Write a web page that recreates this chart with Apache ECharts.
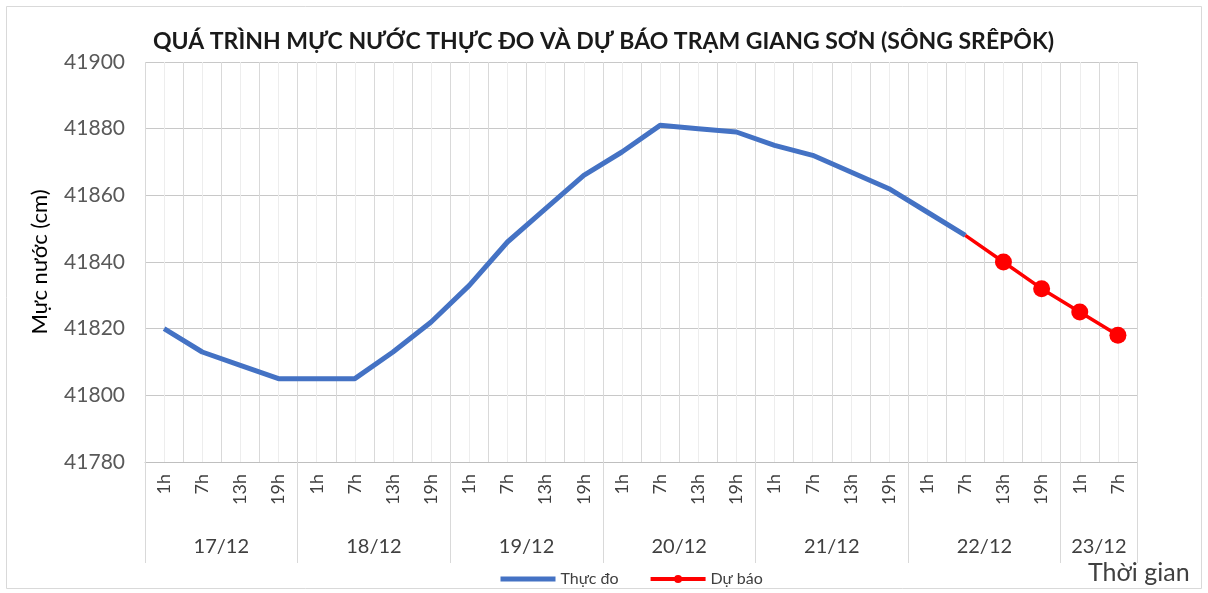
<!DOCTYPE html>
<html>
<head>
<meta charset="utf-8">
<script src="https://cdn.jsdelivr.net/npm/echarts@6/dist/echarts.min.js"></script>
<style>html,body{margin:0;padding:0;background:#fff;}#c{width:1208px;height:593px;}</style>
</head>
<body>
<div id="c"></div>
<script>
// ---- data ----
const hours = ['1h', '7h', '13h', '19h'];
const dates = ['17/12', '18/12', '19/12', '20/12', '21/12', '22/12', '23/12'];
const hoursPerDate = [4, 4, 4, 4, 4, 4, 2];
const observed = [41820, 41813, 41809, 41805, 41805, 41805, 41813, 41822,
                  41833, 41846, 41856, 41866, 41873, 41881, 41880, 41879,
                  41875, 41872, 41867, 41862, 41855, 41848];
const forecast = [41848, 41840, 41832, 41825, 41818];
const yTicks = [41780, 41800, 41820, 41840, 41860, 41880, 41900];

// ---- derived structures ----
const categories = [];
dates.forEach((d, i) => { for (let k = 0; k < hoursPerDate[i]; k++) categories.push(hours[k]); });
const nCat = categories.length;
const halfSlots = new Array(nCat * 2 + 1).fill('');
const boundaryIdx = [];
let s = 0;
dates.forEach((d, i) => {
  boundaryIdx.push(2 * s);
  halfSlots[2 * s + hoursPerDate[i]] = d;
  s += hoursPerDate[i];
});
boundaryIdx.push(2 * nCat);
const fStart = observed.length - 1;
const forecastData = categories.map((c, i) => {
  if (i < fStart || i >= fStart + forecast.length) return null;
  const v = forecast[i - fStart];
  return i === fStart ? { value: v, symbol: 'none' } : v;
});

const FONT = 'Lato, "Noto Sans", sans-serif';
const chart = echarts.init(document.getElementById('c'), null, { renderer: 'canvas' });
chart.setOption({
  animation: false,
  backgroundColor: '#fff',
  title: [{
    text: 'QUÁ TRÌNH MỰC NƯỚC THỰC ĐO VÀ DỰ BÁO TRẠM GIANG SƠN (SÔNG SRÊPÔK)',
    left: 148, top: 25,
    textStyle: { fontFamily: FONT, fontSize: 23, fontWeight: 'bold', color: '#1a1a1a' }
  }, {
    text: 'Thời gian',
    left: 1083, top: 555,
    textStyle: { fontFamily: FONT, fontSize: 25, fontWeight: 'normal', color: '#404040' }
  }],
  graphic: [{
    type: 'rect', shape: { x: 6.5, y: 6.5, width: 1195, height: 582 },
    style: { fill: 'none', stroke: '#d9d9d9', lineWidth: 1 }, silent: true
  }],
  legend: {
    left: 493, top: 566,
    itemWidth: 55, itemHeight: 10, itemGap: 30,
    textStyle: { fontFamily: FONT, fontSize: 16, color: '#404040' },
    data: [
      { name: 'Thực đo', itemStyle: { opacity: 0 }, lineStyle: { width: 5, color: '#4472C4' } },
      { name: 'Dự báo', lineStyle: { width: 4, color: '#FF0000' } }
    ]
  },
  grid: { left: 145, right: 71, top: 62, bottom: 131, containLabel: false },
  xAxis: [{
    type: 'category',
    data: categories,
    boundaryGap: true,
    axisLine: { show: true, lineStyle: { color: '#bfbfbf', width: 1 } },
    axisTick: { show: false },
    axisLabel: { interval: 0, rotate: 90, margin: 12, fontFamily: FONT, fontSize: 18, color: '#404040' },
    splitLine: { show: true, interval: 0, lineStyle: { color: '#d9d9d9', width: 1 } }
  }, {
    type: 'category',
    data: halfSlots,
    boundaryGap: false,
    position: 'bottom',
    axisLine: { show: false },
    axisTick: {
      show: true, length: 101, inside: false,
      interval: (i) => boundaryIdx.indexOf(i) >= 0,
      lineStyle: { color: '#d9d9d9', width: 1 }
    },
    axisLabel: { interval: 0, margin: 75, fontFamily: FONT, fontSize: 20, color: '#404040' },
    splitLine: { show: true, interval: (i) => i % 2 === 1, lineStyle: { color: '#ededed', width: 1 } }
  }],
  yAxis: {
    type: 'value',
    min: yTicks[0], max: yTicks[yTicks.length - 1], interval: yTicks[1] - yTicks[0],
    name: 'Mực nước (cm)',
    nameLocation: 'middle', nameRotate: 90, nameGap: 94,
    nameTextStyle: { fontFamily: FONT, fontSize: 22, color: '#000' },
    axisLine: { show: false },
    axisTick: { show: false },
    axisLabel: { margin: 20, fontFamily: FONT, fontSize: 21, color: '#595959', formatter: (v) => String(v) },
    splitLine: { show: true, lineStyle: { color: '#c8c8c8', width: 1 } }
  },
  series: [{
    name: 'Thực đo',
    type: 'line',
    data: observed,
    symbol: 'none',
    lineStyle: { color: '#4472C4', width: 5 },
    itemStyle: { color: '#4472C4' },
    z: 3
  }, {
    name: 'Dự báo',
    type: 'line',
    data: forecastData,
    symbol: 'circle', symbolSize: 17,
    lineStyle: { color: '#FF0000', width: 3.5 },
    itemStyle: { color: '#FF0000' },
    z: 4
  }]
});
</script>
</body>
</html>
